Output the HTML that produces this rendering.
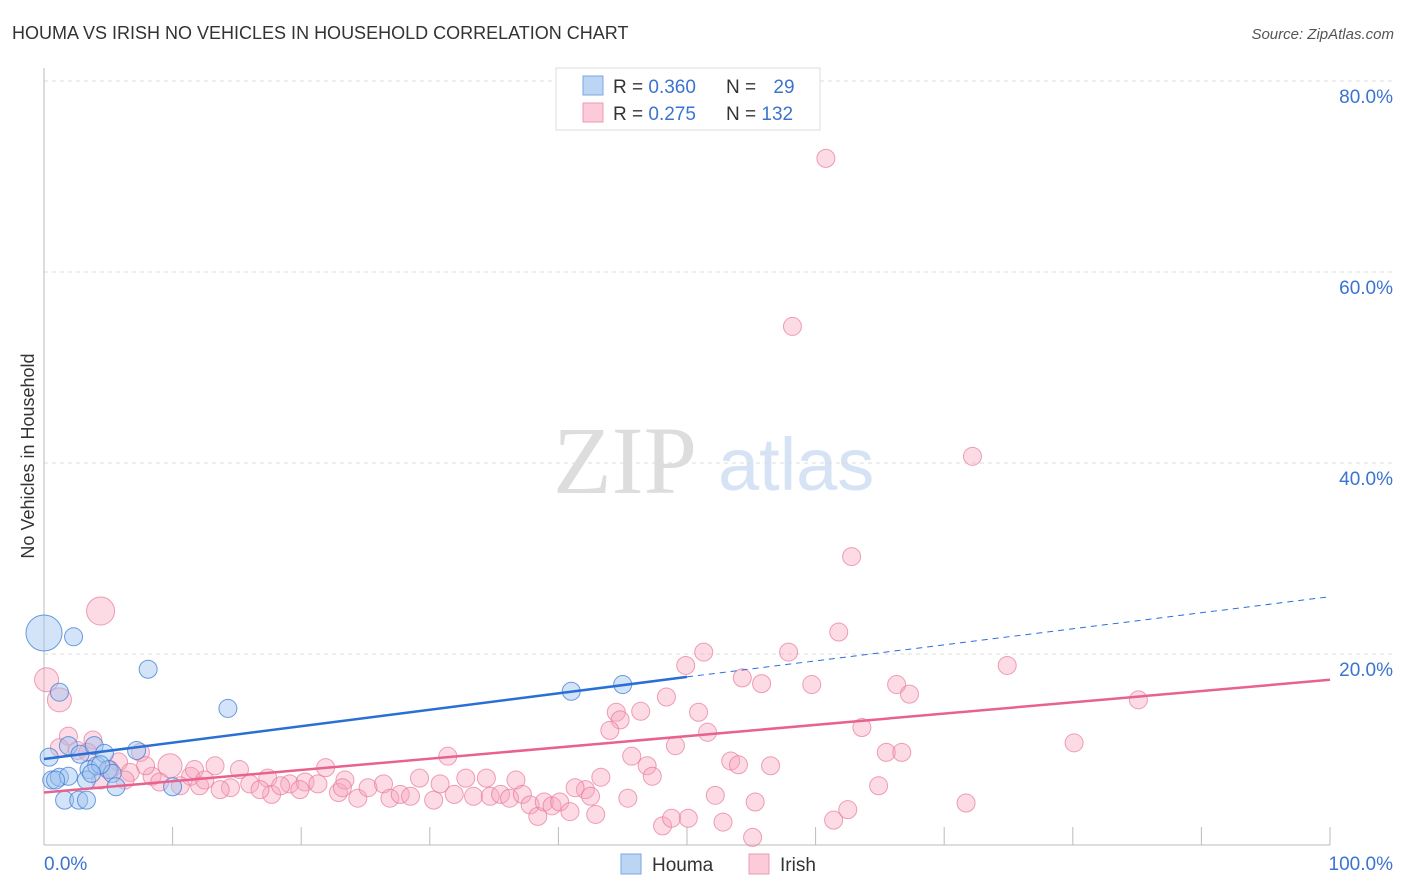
<!DOCTYPE html>
<html><head><meta charset="utf-8"><style>
body{margin:0;background:#fff;font-family:"Liberation Sans",sans-serif;}
#c{position:relative;width:1406px;height:892px;overflow:hidden}
svg text{font-family:"Liberation Sans",sans-serif}
</style></head><body>
<div id="c">
<svg id="s" width="1406" height="892">
<text x="12" y="39" font-size="18" fill="#333">HOUMA VS IRISH NO VEHICLES IN HOUSEHOLD CORRELATION CHART</text>
<text x="1394" y="39" font-size="15" fill="#555" text-anchor="end" font-style="italic">Source: ZipAtlas.com</text>
<text x="34" y="456" font-size="18" fill="#333" text-anchor="middle" transform="rotate(-90 34 456)">No Vehicles in Household</text>
<g><text x="553" y="493" font-size="96" fill="#ddd" font-family="Liberation Serif" style="font-family:'Liberation Serif',serif">ZIP</text><text x="718" y="490" font-size="74" fill="#d5e3f5">atlas</text></g>
<g id="grid"></g><g id="axes"></g><g id="pts"></g><g id="lines"></g>
<g>
<rect x="556" y="68" width="264" height="62" fill="#fff" stroke="#ddd"/>
<rect x="583" y="76" width="20" height="19" fill="#bcd5f5" stroke="#7aa6e0"/>
<rect x="583" y="103" width="20" height="19" fill="#fbcbd9" stroke="#ee9ab3"/>
<text x="613" y="93" font-size="19" fill="#333">R = <tspan fill="#3a74d0">0.360</tspan></text>
<text x="726" y="93" font-size="19" fill="#333">N = <tspan fill="#3a74d0" dx="12">29</tspan></text>
<text x="613" y="120" font-size="19" fill="#333">R = <tspan fill="#3a74d0">0.275</tspan></text>
<text x="726" y="120" font-size="19" fill="#333">N = <tspan fill="#3a74d0">132</tspan></text>
</g>
<g>
<rect x="621" y="854" width="20" height="20" fill="#bcd5f5" stroke="#7aa6e0"/>
<text x="652" y="871" font-size="19" fill="#333">Houma</text>
<rect x="749" y="854" width="20" height="20" fill="#fbcbd9" stroke="#ee9ab3"/>
<text x="780" y="871" font-size="19" fill="#333">Irish</text>
</g>
</svg></div>
<script>
const yTicks=[20,40,60,80];
const xTickLabels=["0.0%","100.0%"];
const houmaX=[0,2.3,8.1,14.3,41.0,45.0,1.2,0.4,0.6,1.2,1.9,1.6,2.7,3.3,1.9,2.8,3.9,3.5,4.1,4.7,5.0,5.3,7.2,5.6,10.0,0.9,3.3,4.4,3.7];
const houmaY=[22.2,21.8,18.4,14.3,16.1,16.8,16.0,9.2,6.8,7.1,7.2,4.7,4.7,4.7,10.4,9.5,10.4,7.9,8.3,9.6,7.9,7.5,9.9,6.1,6.1,6.8,6.8,8.4,7.5];
const houmaR=[18,9,9,9,9,9,9,9,9,9,9,9,9,9,9,9,9,9,9,9,9,9,9,9,9,9,9,9,9];
const irishX=[60.8,58.2,72.2,62.8,61.8,4.4,74.9,85.1,80.1,71.7,51.3,49.9,57.9,54.3,55.8,59.7,66.3,67.3,48.4,44.5,46.4,44.8,50.9,44.0,51.6,63.6,49.1,65.5,66.7,45.7,31.4,53.4,54.0,56.5,46.9,47.3,43.3,64.9,52.2,55.3,45.4,62.5,61.4,48.1,48.8,50.1,52.8,55.1,42.1,42.5,41.3,
0.2,1.2,1.9,3.8,2.6,7.5,5.8,9.8,13.3,6.7,8.4,11.4,9.0,12.1,14.5,16.0,17.4,17.7,19.1,20.3,21.3,21.9,22.9,23.4,24.4,25.2,26.4,26.9,27.7,28.5,29.2,30.3,30.8,31.9,32.8,33.4,34.4,34.7,35.5,36.2,36.7,37.2,37.8,38.4,38.9,39.5,40.1,40.9,42.9,5.1,4.4,6.3,10.6,15.2,18.4,16.8,13.7,19.9,23.2,1.2,3.4,7.9,11.7,12.5];
const irishY=[71.9,54.3,40.7,30.2,22.3,24.5,18.8,15.2,10.7,4.4,20.2,18.8,20.2,17.5,16.9,16.8,16.8,15.8,15.5,13.9,14.0,13.1,13.9,12.0,11.8,12.3,10.4,9.7,9.7,9.3,9.3,8.8,8.4,8.3,8.3,7.2,7.1,6.2,5.2,4.5,4.9,3.7,2.6,2.0,2.8,2.8,2.4,0.8,5.8,5.1,6.0,
17.3,15.2,11.4,11.0,9.9,9.7,8.7,8.3,8.3,7.6,7.2,7.2,6.6,6.2,6.0,6.4,7.0,5.3,6.4,6.6,6.4,8.1,5.5,6.8,4.9,6.0,6.4,4.9,5.3,5.1,7.0,4.7,6.4,5.3,7.0,5.1,7.0,5.1,5.3,4.9,6.8,5.3,4.2,3.0,4.5,4.1,4.5,3.5,3.2,7.9,6.8,6.8,6.2,7.9,6.2,5.8,5.8,5.8,6.0,10.2,9.7,8.3,7.9,6.8];
const houmaTrend=[9.0,17.6,26.0];
const irishTrend=[5.5,17.3];
const X=v=>44+v*12.86, Y=v=>845-v*9.55;
const NS="http://www.w3.org/2000/svg";
function mk(t,a,p){const e=document.createElementNS(NS,t);for(const k in a)e.setAttribute(k,a[k]);p.appendChild(e);return e;}
const grid=document.getElementById('grid'),axes=document.getElementById('axes'),pts=document.getElementById('pts'),lines=document.getElementById('lines');
yTicks.forEach(v=>{const l=mk('line',{x1:44,x2:1394,y1:Y(v),y2:Y(v),stroke:'#ddd','stroke-dasharray':'4,4'},grid);


const t=mk('text',{x:1393,y:Y(v)+22,'font-size':19,fill:'#3a74d0','text-anchor':'end'},axes);t.textContent=v.toFixed(1)+'%';

});
const ya=mk('line',{x1:44,x2:44,y1:68,y2:845,stroke:'#bbb'},axes);


const xa=mk('line',{x1:44,x2:1330,y1:845,y2:845,stroke:'#bbb'},axes);


for(let i=1;i<=10;i++){const t=mk('line',{x1:X(i*10),x2:X(i*10),y1:827,y2:845,stroke:'#bbb'},axes);

}
[[0,'start',44],[100,'end',1393]].forEach((d,i)=>{const t=mk('text',{x:d[2],y:870,'font-size':19,fill:'#3a74d0','text-anchor':d[1]},axes);t.textContent=xTickLabels[i];

});
irishX.forEach((x,i)=>{const r=(i==5?14:(i==51||i==52||i==58?12:9));const c=mk('circle',{cx:X(x),cy:Y(irishY[i]),r:r,fill:'rgba(247,165,190,0.4)',stroke:'rgba(232,120,155,0.7)','stroke-width':1},pts);

});
houmaX.forEach((x,i)=>{const c=mk('circle',{cx:X(x),cy:Y(houmaY[i]),r:houmaR[i],fill:'rgba(160,195,240,0.45)',stroke:'rgba(70,130,215,0.8)','stroke-width':1},pts);

});
const h1=mk('line',{x1:X(0),y1:Y(houmaTrend[0]),x2:X(50),y2:Y(houmaTrend[1]),stroke:'#2a6fd6','stroke-width':2.5},lines);


const h2=mk('line',{x1:X(50),y1:Y(houmaTrend[1]),x2:X(100),y2:Y(houmaTrend[2]),stroke:'#2a6fd6','stroke-width':1,'stroke-dasharray':'6,5'},lines);


const i1=mk('line',{x1:X(0),y1:Y(irishTrend[0]),x2:X(100),y2:Y(irishTrend[1]),stroke:'#e8628f','stroke-width':2.5},lines);


</script>
</body></html>
